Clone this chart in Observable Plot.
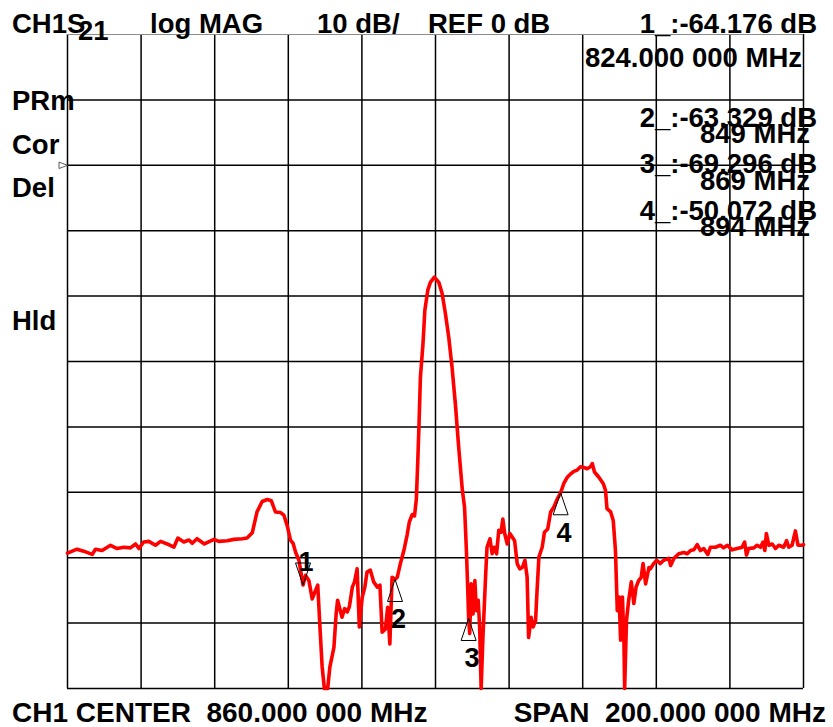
<!DOCTYPE html>
<html><head><meta charset="utf-8">
<script src="https://cdn.jsdelivr.net/npm/d3@7"></script>
<script src="https://cdn.jsdelivr.net/npm/@observablehq/plot@0.6"></script>
<style>
html,body{margin:0;padding:0;background:#fff;}
#chart{width:833px;height:727px;}
svg text{font-family:"Liberation Sans",Arial,Helvetica,sans-serif;}
.hdr{font-weight:bold;font-size:27.5px;fill:#000;white-space:pre;}
.ftr{font-weight:bold;font-size:28px;fill:#000;white-space:pre;}
</style></head><body><div id="chart"></div>
<script>
// ---- trace data (frequency in MHz, magnitude in dB) ----
const freqMHz = [
760.0,762.6,764.4,766.7,767.6,769.4,771.7,773.5,775.3,777.1,778.5,779.4,780.7,782.1,783.9,785.3,787.1,788.9,790.0,791.6,
793.0,793.9,795.2,797.2,799.8,801.1,803.4,805.2,807.5,808.8,810.2,811.5,812.9,814.3,815.4,816.5,817.9,818.8,819.7,820.6,
821.3,822.0,822.9,824.0,824.7,825.6,826.5,827.4,828.0,828.6,829.2,829.8,830.7,831.3,832.4,833.0,833.4,834.0,834.6,835.3,
836.0,836.6,837.4,838.0,838.7,839.3,840.1,840.8,841.4,842.3,843.2,844.2,844.9,845.5,846.4,847.0,847.6,848.2,849.0,849.6,
850.5,851.4,852.3,852.9,853.7,854.3,854.8,855.2,855.5,855.9,856.6,857.1,857.9,858.6,859.7,860.9,861.8,862.7,863.6,864.5,
865.4,866.3,867.3,867.9,868.4,868.8,869.0,869.3,869.7,870.2,870.7,871.1,871.6,872.0,872.4,872.9,873.6,874.0,874.8,875.4,
876.0,876.6,877.2,877.8,878.3,878.8,879.5,880.2,880.8,881.5,882.2,882.9,883.6,884.3,884.9,885.3,886.0,886.5,887.2,887.6,
888.1,889.0,889.6,890.5,891.3,892.2,893.1,894.0,894.9,895.8,896.7,897.6,898.5,899.4,900.3,901.2,902.1,902.6,903.2,904.4,
905.6,906.2,906.6,907.6,908.3,908.9,909.4,909.9,910.3,910.8,911.2,911.4,911.9,912.5,913.2,913.9,914.5,915.2,915.9,916.4,
917.1,918.0,918.4,919.3,920.1,921.1,922.0,923.4,923.9,924.8,926.1,927.5,928.4,929.3,930.2,931.1,932.0,932.9,934.0,934.7,
936.1,937.4,938.3,939.3,940.6,942.0,943.3,944.0,944.5,945.1,946.5,947.4,948.3,949.0,949.5,949.9,950.6,951.5,952.4,953.3,
954.6,955.4,956.0,956.9,957.8,958.5,959.7,960.0
];
const magDb = [
-59.3,-58.7,-59.0,-59.5,-58.7,-58.9,-58.1,-58.6,-58.4,-58.5,-57.9,-58.6,-57.6,-57.5,-58.1,-57.5,-57.9,-58.4,-57.0,-57.6,
-57.3,-57.8,-57.1,-57.9,-57.2,-57.5,-57.4,-57.2,-57.1,-57.0,-56.2,-53.0,-51.4,-51.1,-51.3,-53.0,-53.1,-53.5,-55.1,-57.3,
-57.8,-59.2,-60.4,-64.176,-62.7,-63.5,-66.3,-65.0,-64.2,-70.6,-76.7,-80,-80,-76.7,-73.7,-68.6,-66.5,-67.8,-69.1,-67.8,
-68.3,-67.5,-64.5,-63.7,-61.7,-70.6,-66.0,-64.5,-62.2,-61.9,-63.7,-64.5,-64.2,-71.4,-70.9,-67.6,-73.2,-63.0,-63.329,-63.0,
-60.8,-58.9,-56.5,-54.5,-53.4,-53.6,-51.0,-45.0,-40.0,-32.4,-27.3,-22.2,-19.1,-17.9,-17.1,-17.9,-19.6,-22.7,-26.3,-30.9,
-36.5,-43.1,-49.7,-52.3,-58.9,-65.5,-69.296,-71.6,-64.0,-68.6,-63.5,-68.1,-66.5,-70.6,-80,-72.0,-63.0,-58.4,-57.1,-59.4,
-58.4,-59.4,-55.8,-56.1,-54.1,-56.3,-57.9,-56.3,-56.8,-57.4,-60.9,-61.7,-61.5,-60.4,-63.0,-72.2,-69.1,-70.6,-69.6,-65.0,
-59.9,-58.4,-56.1,-55.6,-53.0,-52.2,-51.0,-50.072,-48.6,-47.7,-47.2,-46.8,-46.6,-46.1,-46.2,-46.4,-46.1,-45.6,-46.9,-47.7,
-48.7,-49.7,-52.5,-53.0,-54.3,-58.9,-68.1,-66.0,-72.6,-66.0,-72.6,-80,-69.6,-66.5,-63.7,-67.0,-64.5,-63.5,-63.0,-60.9,
-64.0,-61.5,-61.7,-60.9,-60.4,-60.9,-60.4,-60.1,-61.2,-60.1,-59.4,-59.2,-59.4,-58.9,-58.8,-58.0,-58.9,-58.6,-59.5,-58.4,
-58.4,-58.1,-58.5,-58.1,-58.8,-58.6,-58.4,-57.6,-59.6,-58.6,-58.5,-58.1,-58.4,-57.6,-58.9,-56.3,-58.1,-57.9,-58.6,-58.1,
-58.4,-57.4,-58.4,-58.1,-55.9,-58.1,-58.1,-58.0
];

// ---- markers ----
const markerNames = ["1", "2", "3", "4"];
const markerFreqMHz = [824, 849, 869, 894];
const markerDb = [-64.176, -63.329, -69.296, -50.072];
const markerDirection = ["down", "up", "up", "up"];
const markerFreqLabels = ["824.000 000 MHz", "849 MHz", "869 MHz", "894 MHz"];

// ---- scale / grid ----
const startMHz = 760, stopMHz = 960;
const topDb = 20, bottomDb = -80;
const refLevelDb = [0];
const xGridMHz = d3.range(760, 961, 20);
const yGridDb = d3.range(-80, 21, 10);

// ---- annotation texts ----
const channelLabel = "CH1S";
const paramSub = "21";
const formatLabel = "log MAG";
const scaleLabel = "10 dB/";
const refLabel = "REF 0 dB";
const statusLabels = ["PRm", "Cor", "Del", "Hld"];
const centerLabel = "CH1 CENTER  860.000 000 MHz";
const spanLabel = "SPAN  200.000 000 MHz";

const trace = freqMHz.map((f, i) => ({f, db: magDb[i]}));
const markers = markerNames.map((n, i) => ({n, f: markerFreqMHz[i], db: markerDb[i], dir: markerDirection[i]}));

const triUp = {draw(ctx) { ctx.moveTo(0, 0); ctx.lineTo(7.5, 22); ctx.lineTo(-7.5, 22); ctx.closePath(); }};
const triDown = {draw(ctx) { ctx.moveTo(0, 0); ctx.lineTo(7.5, -22); ctx.lineTo(-7.5, -22); ctx.closePath(); }};
const triRight = {draw(ctx) { ctx.moveTo(0, 0); ctx.lineTo(-8.5, -3.2); ctx.lineTo(-8.5, 3.2); ctx.closePath(); }};

const chart = Plot.plot({
  width: 833,
  height: 727,
  marginLeft: 67,
  marginRight: 30,
  marginTop: 34,
  marginBottom: 39,
  x: {domain: [startMHz, stopMHz], axis: null},
  y: {domain: [bottomDb, topDb], axis: null},
  style: {background: "#fff", overflow: "visible"},
  marks: [
    Plot.ruleX(xGridMHz, {stroke: "#000", strokeWidth: 1.5}),
    Plot.ruleY(yGridDb.filter(v => v < topDb), {stroke: "#000", strokeWidth: 1.5}),
    Plot.ruleY([topDb], {stroke: "#8c8c8c", strokeWidth: 1.2}),
    Plot.line(trace, {x: "f", y: "db", stroke: "#ff0000", strokeWidth: 3.6, strokeLinejoin: "round", strokeLinecap: "round"}),
    Plot.dot(markers.filter(d => d.dir === "up"), {x: "f", y: "db", symbol: triUp, r: 5, stroke: "#000", fill: "none", strokeWidth: 1}),
    Plot.dot(markers.filter(d => d.dir === "down"), {x: "f", y: "db", symbol: triDown, r: 5, stroke: "#000", fill: "none", strokeWidth: 1}),
    Plot.text(markers.filter(d => d.dir === "up"), {x: "f", y: "db", text: "n", dx: 3.5, dy: 49, lineAnchor: "bottom",
      fontSize: 27, fontWeight: "bold", fill: "#000"}),
    Plot.text(markers.filter(d => d.dir === "down"), {x: "f", y: "db", text: "n", dx: 3, dy: -14, lineAnchor: "bottom",
      fontSize: 27, fontWeight: "bold", fill: "#000"}),
    Plot.dot(refLevelDb, {x: () => startMHz, y: d => d, symbol: triRight, r: 4, stroke: "#333", fill: "#fff", strokeWidth: 0.8})
  ]
});
document.getElementById("chart").appendChild(chart);

const svg = d3.select(chart);
function addText(str, x, y, anchor = "start", cls = "hdr") {
  svg.append("text").attr("class", cls).attr("x", x).attr("y", y)
    .attr("text-anchor", anchor).attr("xml:space", "preserve").text(str);
}
addText(channelLabel, 12, 33);
addText(paramSub, 78, 40);
addText(formatLabel, 150, 33);
addText(scaleLabel, 317, 33);
addText(refLabel, 428, 33);

const readY = [[33, 67], [127, 143], [173, 190], [220, 236]];
markers.forEach((m, i) => {
  addText(`${m.n}_:${m.db.toFixed(3)} dB`, 817, readY[i][0], "end");
  addText(markerFreqLabels[i], i === 0 ? 802 : 810, readY[i][1], "end");
});

const statusY = [110, 154, 197, 330];
statusLabels.forEach((s, i) => addText(s, 12, statusY[i]));

addText(centerLabel, 12, 722, "start", "ftr");
addText(spanLabel, 826, 722, "end", "ftr");
</script>
</body></html>
